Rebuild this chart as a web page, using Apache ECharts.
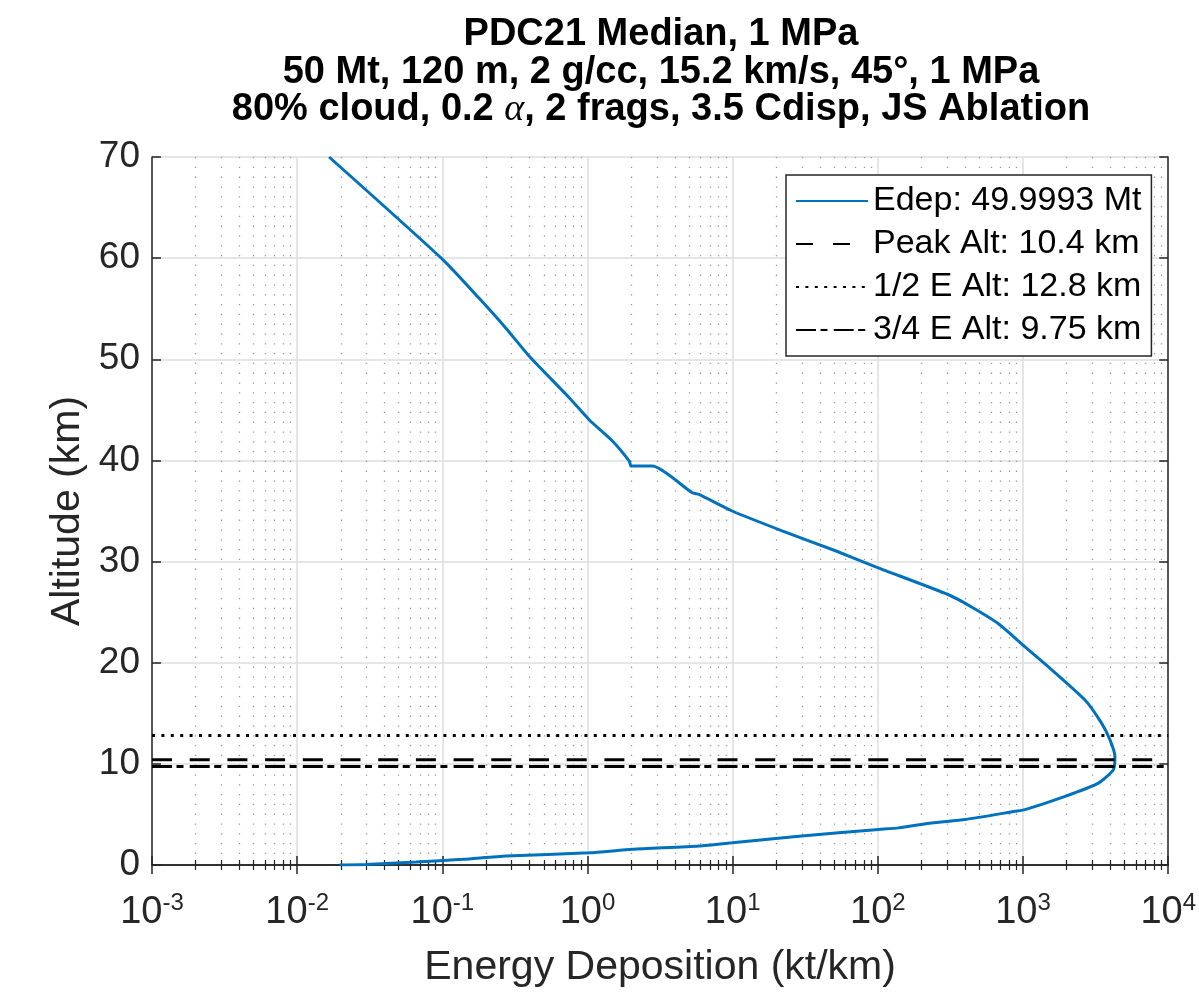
<!DOCTYPE html>
<html>
<head>
<meta charset="utf-8">
<title>PDC21 Median, 1 MPa</title>
<script src="https://cdn.jsdelivr.net/npm/echarts@6/dist/echarts.min.js"></script>
<style>
html, body { margin: 0; padding: 0; background: #fff; }
#main { width: 1199px; height: 993px; }
</style>
</head>
<body>
<div id="main"></div>
<script>
// altitude (km) and energy deposition (kt/km), top to bottom
var altitude = [70.0, 59.9, 56.0, 53.05, 50.3, 46.2, 44.0, 41.9, 39.93, 39.44, 39.44,
  36.8, 36.65, 35.0, 33.04, 31.07, 29.43, 26.72, 25.49, 23.85, 21.56, 19.59, 16.31, 14.0, 12.37,
  10.73, 9.42, 8.10, 6.79, 5.48, 5.31, 4.50, 4.16, 3.67, 3.51, 2.85, 2.19, 1.87, 1.55, 1.21,
  0.89, 0.56, 0.30, 0.05, 0.0];
var energy = [0.0166, 0.100, 0.180, 0.275, 0.397, 0.748, 1.03, 1.49, 1.94, 2.0, 2.80,
  5.27, 5.86, 9.93, 21.9, 51.1, 98.6, 307, 445, 678, 1033, 1496, 2673, 3483, 3972,
  4296, 4188, 3305, 1950, 1033, 881, 400, 235, 139, 101, 28.6, 9.93, 5.86, 2.04, 1.03,
  0.275, 0.138, 0.066, 0.030, 0.0196];

var peakAlt = 10.4;
var halfEAlt = 12.8;
var threeQuarterAlt = 9.75;
var seriesNames = ['Edep: 49.9993 Mt', 'Peak Alt: 10.4 km', '1/2 E Alt: 12.8 km', '3/4 E Alt: 9.75 km'];
var titleLines = ['PDC21 Median, 1 MPa', '50 Mt, 120 m, 2 g/cc, 15.2 km/s, 45°, 1 MPa',
  '80% cloud, 0.2 {al|α}, 2 frags, 3.5 Cdisp, JS Ablation'];

var xDecades = [-3, -2, -1, 0, 1, 2, 3, 4];
var yTicks = [0, 10, 20, 30, 40, 50, 60, 70];

var FONT = "'Liberation Sans', Arial, Helvetica, sans-serif";
var xMin = Math.pow(10, xDecades[0]);
var xMax = Math.pow(10, xDecades[xDecades.length - 1]);

var curve = altitude.map(function (a, i) { return [energy[i], a]; });
function flat(v) { return [[xMin, v], [xMax, v]]; }

// title is centred over the plot box, not the page
var plotCenter = 152 + (1199 - 152 - 29) / 2;

var myChart = echarts.init(document.getElementById('main'));

var option = {
  animation: false,
  backgroundColor: '#fff',
  title: {
    text: titleLines.join('\n'),
    left: plotCenter,
    textAlign: 'center',
    top: 16,
    padding: 0,
    textStyle: {
      fontFamily: FONT,
      fontSize: 38,
      fontWeight: 'bold',
      color: '#000',
      lineHeight: 37.5,
      rich: {
        al: { fontFamily: "'Liberation Serif', 'DejaVu Serif', serif", fontStyle: 'italic', fontWeight: 'normal', fontSize: 38, lineHeight: 37.5, color: '#000' }
      }
    }
  },
  legend: {
    orient: 'vertical',
    left: 786,
    top: 175,
    padding: [9, 10, 9, 9],
    itemWidth: 72,
    itemHeight: 14,
    itemGap: 9,
    selectedMode: false,
    backgroundColor: '#fff',
    borderColor: '#262626',
    borderWidth: 1.5,
    itemStyle: { opacity: 0 },
    textStyle: { fontFamily: FONT, fontSize: 34, lineHeight: 34, color: '#000' },
    data: [
      { name: seriesNames[0] },
      { name: seriesNames[1], lineStyle: { type: [17, 20] } },
      { name: seriesNames[2] },
      { name: seriesNames[3] }
    ]
  },
  grid: { left: 152, right: 29, top: 157, bottom: 124, containLabel: false },
  xAxis: [
    {
      type: 'log',
      logBase: 10,
      min: xMin,
      max: xMax,
      interval: 1,
      name: 'Energy Deposition (kt/km)',
      nameLocation: 'middle',
      nameGap: 82,
      nameTextStyle: { fontFamily: FONT, fontSize: 41, color: '#262626' },
      axisLine: { lineStyle: { color: '#262626', width: 1.5 } },
      axisTick: { inside: true, length: 9, lineStyle: { color: '#262626', width: 1.5 } },
      minorTick: { show: true, splitNumber: 9, length: 5, lineStyle: { color: '#262626', width: 1.2 } },
      splitLine: { show: true, lineStyle: { color: '#dedede', width: 1.5 } },
      minorSplitLine: { show: true, lineStyle: { color: '#9a9a9a', width: 1.3, type: [1.3, 8.5] } },
      axisLabel: {
        margin: 26,
        formatter: function (v) {
          var e = Math.round(Math.log(v) / Math.LN10);
          return '{b|10}{s|' + e + '}';
        },
        rich: {
          b: { fontFamily: FONT, fontSize: 38, lineHeight: 44, color: '#262626' },
          s: { fontFamily: FONT, fontSize: 24, lineHeight: 22, verticalAlign: 'top', color: '#262626' }
        }
      }
    },
    {
      type: 'log',
      logBase: 10,
      min: xMin,
      max: xMax,
      interval: 1,
      position: 'top',
      axisLine: { lineStyle: { color: '#262626', width: 1.5 } },
      axisTick: { inside: true, length: 9, lineStyle: { color: '#262626', width: 1.5 } },
      minorTick: { show: true, splitNumber: 9, length: 5, lineStyle: { color: '#262626', width: 1.2 } },
      splitLine: { show: false },
      axisLabel: { show: false }
    }
  ],
  yAxis: [
    {
      type: 'value',
      min: yTicks[0],
      max: yTicks[yTicks.length - 1],
      interval: yTicks[1] - yTicks[0],
      name: 'Altitude (km)',
      nameLocation: 'middle',
      nameGap: 60,
      nameTextStyle: { fontFamily: FONT, fontSize: 41, color: '#262626' },
      axisLine: { show: true, lineStyle: { color: '#262626', width: 1.5 } },
      axisTick: { show: true, inside: true, length: 9, lineStyle: { color: '#262626', width: 1.5 } },
      splitLine: { show: true, lineStyle: { color: '#dedede', width: 1.5 } },
      axisLabel: { fontFamily: FONT, fontSize: 37, color: '#262626', margin: 12 }
    },
    {
      type: 'value',
      position: 'right',
      min: yTicks[0],
      max: yTicks[yTicks.length - 1],
      interval: yTicks[1] - yTicks[0],
      axisLine: { show: true, lineStyle: { color: '#262626', width: 1.5 } },
      axisTick: { show: true, inside: true, length: 9, lineStyle: { color: '#262626', width: 1.5 } },
      splitLine: { show: false },
      axisLabel: { show: false }
    }
  ],
  series: [
    {
      name: seriesNames[0],
      type: 'line',
      data: curve,
      symbol: 'none',
      smooth: 0.2,
      lineStyle: { color: '#0072BD', width: 3 },
      itemStyle: { color: '#0072BD' }
    },
    {
      name: seriesNames[1],
      type: 'line',
      data: flat(peakAlt),
      symbol: 'none',
      lineStyle: { color: '#000', width: 3, type: [20, 17.7] },
      itemStyle: { color: '#000' }
    },
    {
      name: seriesNames[2],
      type: 'line',
      data: flat(halfEAlt),
      symbol: 'none',
      lineStyle: { color: '#000', width: 3, type: [3, 6.4] },
      itemStyle: { color: '#000' }
    },
    {
      name: seriesNames[3],
      type: 'line',
      data: flat(threeQuarterAlt),
      symbol: 'none',
      lineStyle: { color: '#000', width: 3, type: [20, 4.5, 7, 6.2] },
      itemStyle: { color: '#000' }
    }
  ]
};

myChart.setOption(option);
window.onresize = function () {
  myChart.resize();
};
</script>
</body>
</html>
